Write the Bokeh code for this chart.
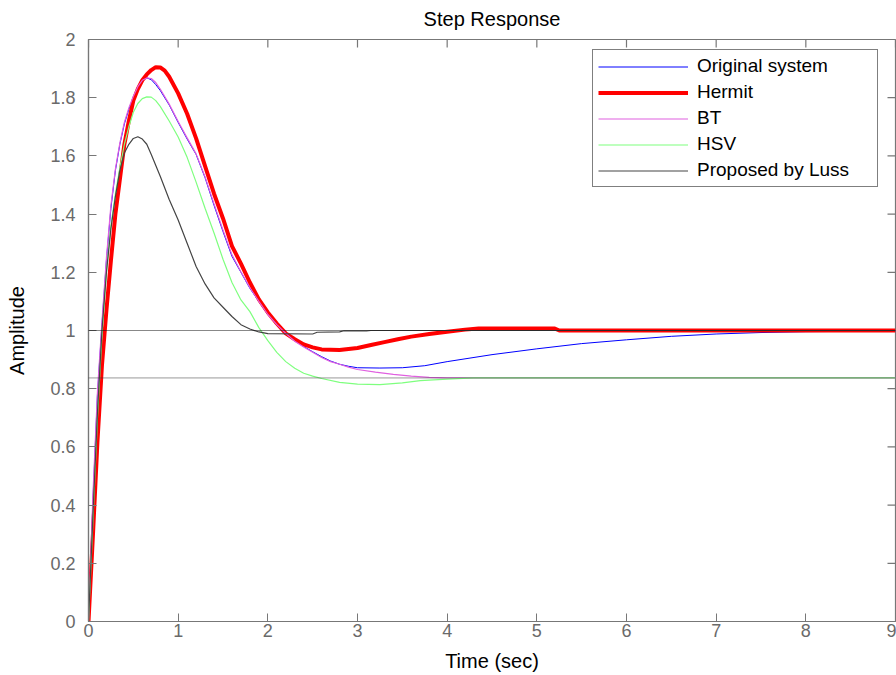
import math
from bokeh.plotting import figure
from bokeh.models import Span, FixedTicker, Legend, LegendItem, Range1d
from bokeh.embed import file_html
from bokeh.resources import INLINE

# ---------------- data ----------------
t_orig = [0, 0.05, 0.1, 0.15, 0.2, 0.25, 0.3, 0.35, 0.4, 0.45, 0.5, 0.55, 0.6, 0.65, 0.7, 0.75, 0.8,
          0.9, 1.0, 1.1, 1.2, 1.3, 1.4, 1.5, 1.6, 1.7, 1.8, 1.9, 2.0, 2.1, 2.2, 2.3, 2.4, 2.5, 2.6,
          2.7, 2.8, 2.9, 3.0, 3.25, 3.5, 3.75, 4.0, 4.5, 5.0, 5.5, 6.0, 6.5, 7.0, 7.5, 8.0, 8.5, 9.0]
y_orig = [0, 0.42, 0.78, 1.02, 1.24, 1.42, 1.55, 1.64, 1.71, 1.76, 1.80, 1.835, 1.858, 1.868, 1.862,
          1.845, 1.825, 1.775, 1.715, 1.658, 1.605, 1.525, 1.43, 1.34, 1.255, 1.2, 1.145, 1.1, 1.055,
          1.02, 0.99, 0.965, 0.945, 0.927, 0.91, 0.895, 0.884, 0.877, 0.872, 0.871, 0.872, 0.879,
          0.893, 0.917, 0.937, 0.955, 0.968, 0.98, 0.988, 0.993, 0.996, 0.997, 0.997]

t_herm = [0, 0.05, 0.1, 0.15, 0.2, 0.25, 0.3, 0.35, 0.4, 0.45, 0.5, 0.55, 0.6, 0.65, 0.7, 0.75, 0.8,
          0.85, 0.9, 1.0, 1.1, 1.2, 1.3, 1.4, 1.5, 1.6, 1.7, 1.8, 1.9, 2.0, 2.1, 2.2, 2.3, 2.4, 2.5,
          2.6, 2.8, 3.0, 3.15, 3.3, 3.45, 3.6, 3.8, 4.0, 4.2, 4.35, 5.2, 5.25, 9.0]
y_herm = [0, 0.3, 0.62, 0.88, 1.07, 1.24, 1.40, 1.52, 1.64, 1.72, 1.79, 1.83, 1.86, 1.88, 1.895,
          1.905, 1.904, 1.893, 1.872, 1.815, 1.745, 1.66, 1.565, 1.47, 1.385, 1.29, 1.23, 1.165,
          1.107, 1.062, 1.024, 0.99, 0.97, 0.952, 0.942, 0.935, 0.933, 0.94, 0.95, 0.96, 0.97,
          0.979, 0.988, 0.996, 1.003, 1.007, 1.007, 1.0, 1.0]

t_bt = [0, 0.05, 0.1, 0.15, 0.2, 0.25, 0.3, 0.35, 0.4, 0.45, 0.5, 0.55, 0.6, 0.65, 0.7, 0.75, 0.8,
        0.9, 1.0, 1.1, 1.2, 1.3, 1.4, 1.5, 1.6, 1.7, 1.8, 1.9, 2.0, 2.1, 2.2, 2.3, 2.4, 2.5, 2.6,
        2.7, 2.8, 2.9, 3.0, 3.2, 3.4, 3.6, 3.8, 4.0, 4.3, 9.0]
y_bt = [0, 0.44, 0.79, 1.03, 1.25, 1.43, 1.555, 1.645, 1.715, 1.765, 1.805, 1.838, 1.86, 1.868,
        1.866, 1.852, 1.83, 1.778, 1.718, 1.662, 1.607, 1.528, 1.435, 1.345, 1.26, 1.202, 1.147,
        1.1, 1.055, 1.02, 0.99, 0.963, 0.943, 0.925, 0.907, 0.893, 0.884, 0.874, 0.866, 0.857,
        0.849, 0.843, 0.839, 0.837, 0.837, 0.837]

t_hsv = [0, 0.05, 0.1, 0.15, 0.2, 0.25, 0.3, 0.35, 0.4, 0.45, 0.5, 0.55, 0.6, 0.65, 0.7, 0.75, 0.8,
         0.9, 1.0, 1.1, 1.2, 1.3, 1.4, 1.5, 1.6, 1.7, 1.8, 1.9, 2.0, 2.1, 2.2, 2.3, 2.4, 2.5, 2.6,
         2.8, 3.0, 3.25, 3.5, 3.7, 4.0, 4.3, 9.0]
y_hsv = [0, 0.35, 0.7, 0.98, 1.2, 1.36, 1.47, 1.56, 1.64, 1.70, 1.75, 1.78, 1.797, 1.803, 1.802,
         1.79, 1.77, 1.72, 1.665, 1.595, 1.51, 1.42, 1.335, 1.245, 1.165, 1.105, 1.065, 1.01,
         0.965, 0.925, 0.893, 0.87, 0.853, 0.843, 0.835, 0.822, 0.816, 0.814, 0.82, 0.828,
         0.833, 0.837, 0.837]

t_luss = [0, 0.05, 0.1, 0.15, 0.2, 0.25, 0.3, 0.35, 0.4, 0.45, 0.5, 0.55, 0.6, 0.65, 0.7, 0.8,
          0.9, 1.0, 1.1, 1.2, 1.3, 1.4, 1.5, 1.6, 1.7, 1.8, 1.9, 2.0, 2.5, 2.55, 2.8, 2.85, 3.1,
          3.15, 9.0]
y_luss = [0, 0.37, 0.72, 1.0, 1.2, 1.35, 1.46, 1.55, 1.61, 1.64, 1.66, 1.666, 1.658, 1.64, 1.605,
          1.53, 1.45, 1.38, 1.30, 1.22, 1.16, 1.112, 1.08, 1.048, 1.02, 1.005, 0.995, 0.989,
          0.988, 0.994, 0.995, 0.999, 0.999, 1.0, 1.0]

steady_full = 1.0
steady_reduced = 0.837

series_names = ["Original system", "Hermit", "BT", "HSV", "Proposed by Luss"]

x_ticks = [0, 1, 2, 3, 4, 5, 6, 7, 8, 9]
x_tick_labels = ["0", "1", "2", "3", "4", "5", "6", "7", "8", "9"]
y_ticks = [0, 0.2, 0.4, 0.6, 0.8, 1.0, 1.2, 1.4, 1.6, 1.8, 2.0]
y_tick_labels = ["0", "0.2", "0.4", "0.6", "0.8", "1", "1.2", "1.4", "1.6", "1.8", "2"]
x_min, x_max = 0, 9
y_min, y_max = 0, 2

title_text = "Step Response"
x_label = "Time (sec)"
y_label = "Amplitude"

# ---------------- figure ----------------
FONT = "Liberation Sans"
AX_COLOR = "#777777"
TICK_LABEL_COLOR = "#6a6a6a"

p = figure(frame_width=807, frame_height=582,
           x_range=Range1d(x_min, x_max), y_range=Range1d(y_min, y_max),
           output_backend="svg", toolbar_location=None,
           min_border_left=88, min_border_right=1, min_border_top=0, min_border_bottom=52,
           title=title_text, x_axis_label=x_label, y_axis_label=y_label)

p.title.align = "center"
p.title.vertical_align = "top"
p.title.text_font = FONT
p.title.text_font_size = "20px"
p.title.text_font_style = "normal"
p.title.text_color = "black"
p.title.standoff = 15

p.xgrid.visible = False
p.ygrid.visible = False
p.outline_line_color = AX_COLOR
p.outline_line_width = 1.2
p.background_fill_color = "white"
p.border_fill_color = "white"

def style_axis(ax):
    ax.axis_line_color = AX_COLOR
    ax.axis_line_width = 1.2
    ax.major_tick_line_color = AX_COLOR
    ax.major_tick_in = 8
    ax.major_tick_out = 0
    ax.minor_tick_line_color = None
    ax.major_label_text_font = FONT
    ax.major_label_text_font_size = "18px"
    ax.major_label_text_color = TICK_LABEL_COLOR
    ax.axis_label_text_font = FONT
    ax.axis_label_text_font_size = "20px"
    ax.axis_label_text_font_style = "normal"
    ax.axis_label_text_color = "black"

xa = p.xaxis[0]
ya = p.yaxis[0]
xa.ticker = FixedTicker(ticks=x_ticks)
ya.ticker = FixedTicker(ticks=y_ticks)
xa.major_label_overrides = {v: s for v, s in zip(x_ticks, x_tick_labels)}
ya.major_label_overrides = {v: s for v, s in zip(y_ticks, y_tick_labels)}
style_axis(xa)
style_axis(ya)
xa.major_label_standoff = 2
xa.axis_label_standoff = 10
ya.major_label_standoff = 13
ya.axis_label_standoff = 19

# inward ticks on the top and right edges of the box (MATLAB "box on")
p.ray(x=x_ticks, y=[y_max] * len(x_ticks), length=8, length_units="screen",
      angle=-math.pi / 2, line_color=AX_COLOR, line_width=1.2)
p.ray(x=[x_max] * len(y_ticks), y=y_ticks, length=8, length_units="screen",
      angle=math.pi, line_color=AX_COLOR, line_width=1.2)

# steady-state lines
p.add_layout(Span(location=steady_full, dimension="width", line_color="#111111",
                  line_dash="1 1", line_width=1))
p.add_layout(Span(location=steady_reduced, dimension="width", line_color="#333333",
                  line_dash="1 1", line_width=1))

r_orig = p.line(t_orig, y_orig, line_color="#0000ff", line_width=1)
r_herm = p.line(t_herm, y_herm, line_color="#ff0000", line_width=4)
r_bt = p.line(t_bt, y_bt, line_color="#e060e0", line_width=1.2)
r_hsv = p.line(t_hsv, y_hsv, line_color="#7fff7f", line_width=1.2)
r_luss = p.line(t_luss, y_luss, line_color="#444444", line_width=1.2)

renderers = [r_orig, r_herm, r_bt, r_hsv, r_luss]
legend = Legend(items=[LegendItem(label=n, renderers=[r]) for n, r in zip(series_names, renderers)],
                location=(504, 434), glyph_width=90, glyph_height=21, label_height=21,
                label_standoff=9, spacing=4, padding=5, label_width=175, margin=0,
                border_line_color="black", border_line_width=1.5,
                background_fill_color="white", background_fill_alpha=1,
                label_text_font=FONT, label_text_font_size="19px", label_text_color="black")
p.add_layout(legend)

open("out.html", "w").write(file_html(p, INLINE))
